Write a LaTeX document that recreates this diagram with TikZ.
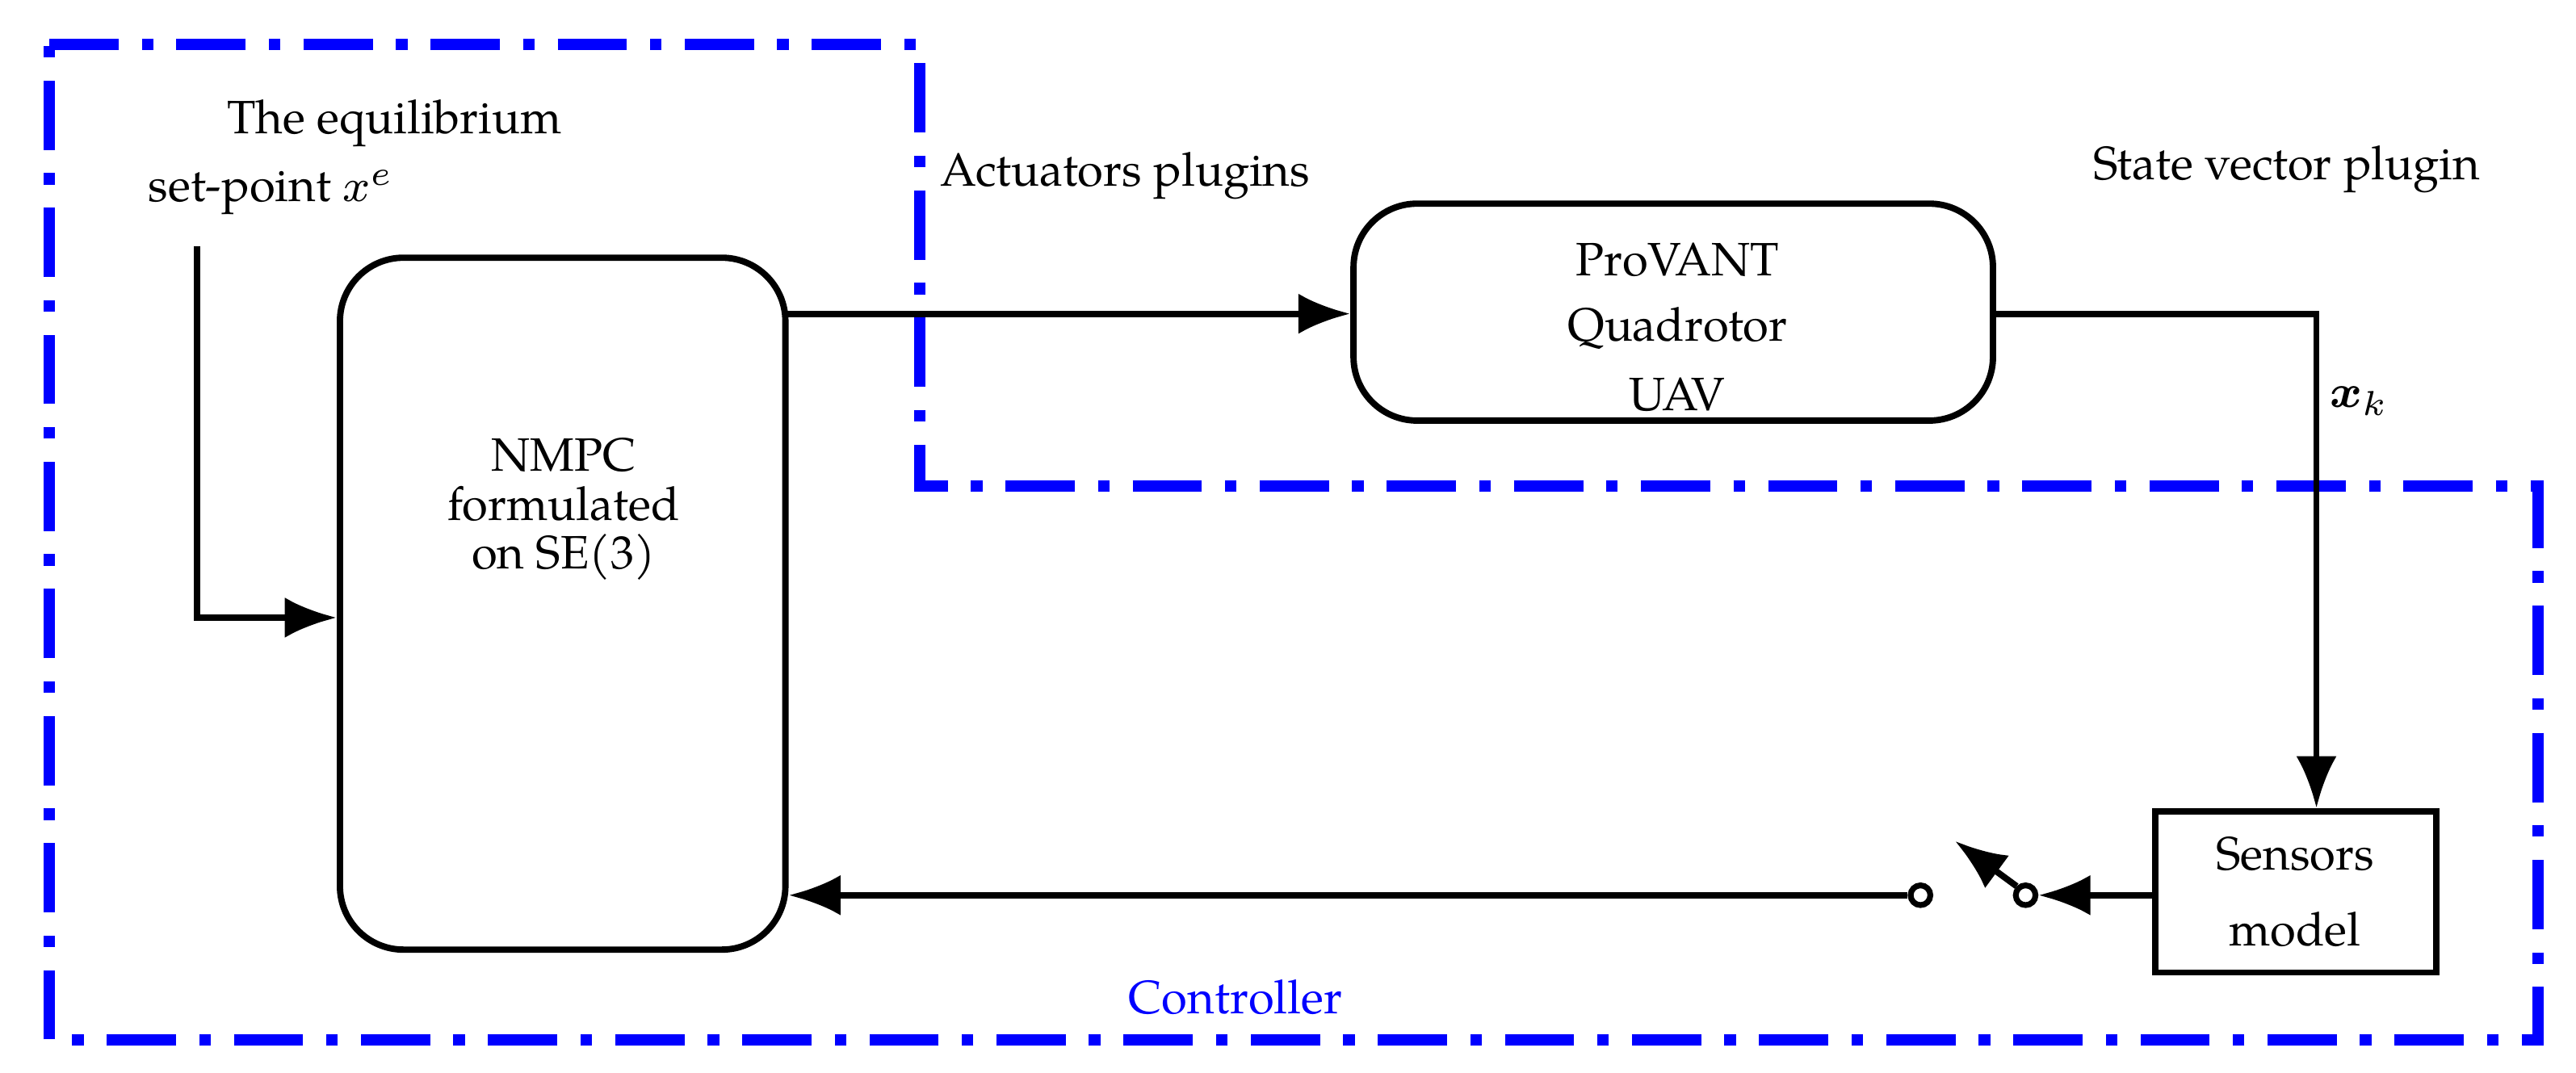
\documentclass[tikz,border=0pt]{standalone}
\usepackage{amsmath,amssymb,bm}
\usepackage{fontspec}
\setmainfont{TeX Gyre Pagella}
\usetikzlibrary{arrows.meta}
\begin{document}
\begin{tikzpicture}[x=0.01cm,y=-0.01cm,
  blk/.style={draw,line width=1.1pt,rounded corners=11pt},
  ln/.style={line width=1.1pt},
  arr/.style={ln,-{Latex[length=9pt,width=7pt]}},
  lab/.style={font=\fontsize{8.1}{9.5}\selectfont,inner sep=0pt},
  sw/.style={circle,draw,line width=1pt,minimum size=0.12cm,inner sep=0pt}]
\useasboundingbox (0,0) rectangle (1568,653);
\draw[blue,line width=2pt,dash pattern=on 12pt off 4pt on 2pt off 4pt]
  (30,27) -- (560,27) -- (560,296) -- (1545,296) -- (1545,633) -- (30,633) -- cycle;
\node[blk,minimum width=2.71cm,minimum height=4.21cm] (nmpc) at (342.5,367.5) {};
\node[lab,align=center] (nmpct) at (343,310) {NMPC\\[-1pt]formulated\\[-1pt]on SE(3)};
\node[blk,minimum width=3.89cm,minimum height=1.32cm] (uav) at (1018.5,190) {};
\node[lab] (u1) at (1021,158) {ProVANT};
\node[lab] (u2) at (1021,200) {Quadrotor};
\node[lab] (u3) at (1021,240) {UAV};
\node[draw,line width=1.1pt,minimum width=1.71cm,minimum height=0.98cm] (sens) at (1397.5,543) {};
\node[lab] (s1) at (1397,520) {Sensors};
\node[lab] (s2) at (1397,566) {model};
\node[lab] (eq) at (240,75) {The equilibrium};
\node[lab] (sp) at (165,117) {set-point $x^e$};
\node[lab] (act) at (685,107) {Actuators plugins};
\node[lab] (svp) at (1392,103) {State vector plugin};
\node[lab] (xk) at (1436,244) {$\bm{x}_k$};
\node[lab,text=blue] (ctl) at (752,607) {Controller};
\coordinate (sp0) at (120,150);
\coordinate (sp1) at (120,376);
\draw[arr] (sp0) -- (sp1) -- (nmpc.west |- sp1);
\coordinate (a0) at (478,191);
\draw[arr] (a0) -- (uav.west |- a0);
\coordinate (c1) at (1410,191);
\draw[arr] (uav.east |- c1) -- (c1) -- (sens.north -| c1);
\node[sw] (swr) at (1233,545) {};
\node[sw] (swl) at (1169,545) {};
\coordinate (swe) at (1190,512);
\draw[arr] (sens.west |- swr) -- (swr.east);
\draw[arr] (swr.north west) -- (swe);
\draw[arr] (swl.west) -- (nmpc.east |- swl);
\end{tikzpicture}
\end{document}
